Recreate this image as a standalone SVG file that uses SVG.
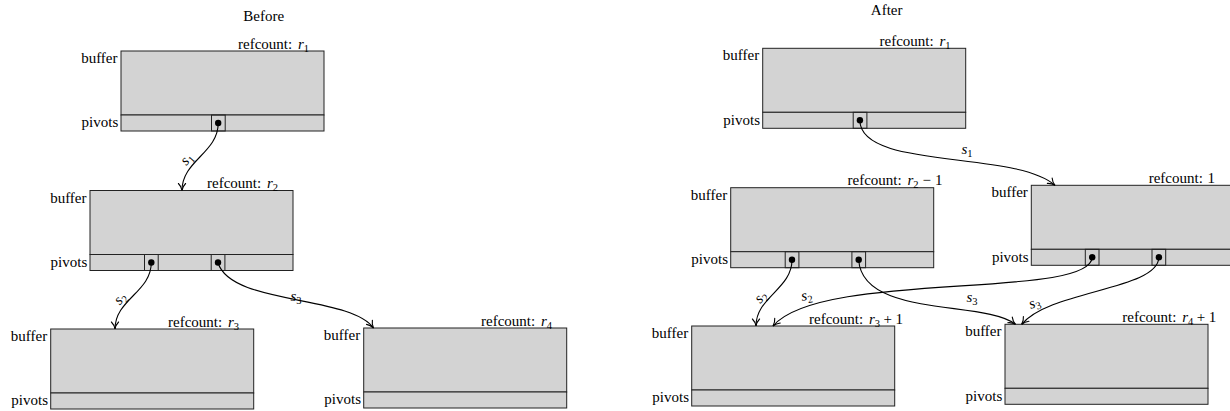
<svg xmlns="http://www.w3.org/2000/svg" width="1230" height="411" viewBox="0 0 1230 411">
<style>
  text { font-family: "Liberation Serif", "Times New Roman", serif; font-size: 15px; fill: #000; }
  .title { text-anchor: middle; }
  .lbl { text-anchor: end; }
  .i { font-style: italic; }
  .sub { font-size: 10.5px; font-style: normal; }
  .slab { text-anchor: middle; }
  .buf { fill: #d3d3d3; stroke: #222; stroke-width: 1; }
  .pv { fill: #d3d3d3; stroke: #222; stroke-width: 1; }
  .pbox { fill: none; stroke: #222; stroke-width: 1; }
  .dot { fill: #000; }
  .edge { fill: none; stroke: #000; stroke-width: 1.1; marker-end: url(#arr); }
</style>
<defs>
  <marker id="arr" markerUnits="userSpaceOnUse" markerWidth="12" markerHeight="12" viewBox="-9 -6 12 12" refX="0" refY="0" orient="auto">
    <path d="M-7,-3.6 C-5,-1.6 -1.6,-0.3 0,0 C-1.6,0.3 -5,1.6 -7,3.6" fill="none" stroke="#000" stroke-width="1.1" stroke-linecap="round"/>
  </marker>
</defs>

<text class="title" x="263.7" y="20.5">Before</text>
<text class="title" x="886.7" y="15">After</text>

<!-- Before nodes -->
<g id="b1">
  <rect class="buf" x="121" y="51" width="203" height="64"/>
  <rect class="pv" x="121" y="115" width="203" height="16"/>
  <rect class="pbox" x="211.5" y="115" width="13.7" height="16"/>
  <circle class="dot" cx="218.2" cy="123" r="3.2"/>
  <text class="lbl" x="117.5" y="63">buffer</text>
  <text class="lbl" x="118.3" y="127.3">pivots</text>
  <text x="238" y="48.5">refcount: <tspan class="i" dx="2">r</tspan><tspan class="sub" dy="3">1</tspan></text>
</g>
<g id="b2">
  <rect class="buf" x="90" y="190.5" width="203" height="64"/>
  <rect class="pv" x="90" y="254.5" width="203" height="16"/>
  <rect class="pbox" x="144.5" y="254.5" width="13.7" height="16"/>
  <rect class="pbox" x="211.2" y="254.5" width="13.7" height="16"/>
  <circle class="dot" cx="151.3" cy="262.5" r="3.2"/>
  <circle class="dot" cx="218" cy="262.5" r="3.2"/>
  <text class="lbl" x="86.5" y="202.5">buffer</text>
  <text class="lbl" x="87.3" y="266.8">pivots</text>
  <text x="207" y="188">refcount: <tspan class="i" dx="2">r</tspan><tspan class="sub" dy="3">2</tspan></text>
</g>
<g id="b3">
  <rect class="buf" x="50.7" y="329" width="203" height="64"/>
  <rect class="pv" x="50.7" y="393" width="203" height="16"/>
  <text class="lbl" x="47.2" y="341">buffer</text>
  <text class="lbl" x="48" y="405.3">pivots</text>
  <text x="168" y="326.5">refcount: <tspan class="i" dx="2">r</tspan><tspan class="sub" dy="3">3</tspan></text>
</g>
<g id="b4">
  <rect class="buf" x="363.7" y="328" width="203" height="64"/>
  <rect class="pv" x="363.7" y="392" width="203" height="16"/>
  <text class="lbl" x="360.2" y="340">buffer</text>
  <text class="lbl" x="361" y="404.3">pivots</text>
  <text x="481" y="325.5">refcount: <tspan class="i" dx="2">r</tspan><tspan class="sub" dy="3">4</tspan></text>
</g>

<!-- After nodes -->
<g id="a1">
  <rect class="buf" x="762.7" y="48.3" width="203" height="64"/>
  <rect class="pv" x="762.7" y="112.3" width="203" height="16"/>
  <rect class="pbox" x="853.2" y="112.3" width="13.7" height="16"/>
  <circle class="dot" cx="859.9" cy="120.3" r="3.2"/>
  <text class="lbl" x="759.2" y="60.3">buffer</text>
  <text class="lbl" x="760" y="124.6">pivots</text>
  <text x="879.5" y="45.8">refcount: <tspan class="i" dx="2">r</tspan><tspan class="sub" dy="3">1</tspan></text>
</g>
<g id="a2">
  <rect class="buf" x="730.7" y="187.7" width="203" height="64"/>
  <rect class="pv" x="730.7" y="251.7" width="203" height="16"/>
  <rect class="pbox" x="785.2" y="251.7" width="13.7" height="16"/>
  <rect class="pbox" x="851.9" y="251.7" width="13.7" height="16"/>
  <circle class="dot" cx="792" cy="259.7" r="3.2"/>
  <circle class="dot" cx="858.7" cy="259.7" r="3.2"/>
  <text class="lbl" x="727.2" y="199.7">buffer</text>
  <text class="lbl" x="728" y="264">pivots</text>
  <text x="847.5" y="185.2">refcount: <tspan class="i" dx="2">r</tspan><tspan class="sub" dy="3">2</tspan><tspan dy="-3" dx="4">−</tspan><tspan dx="4">1</tspan></text>
</g>
<g id="a3">
  <rect class="buf" x="1031.3" y="185.3" width="203" height="64"/>
  <rect class="pv" x="1031.3" y="249.3" width="203" height="16"/>
  <rect class="pbox" x="1085.3" y="249.3" width="13.7" height="16"/>
  <rect class="pbox" x="1152" y="249.3" width="13.7" height="16"/>
  <circle class="dot" cx="1092.2" cy="257.3" r="3.2"/>
  <circle class="dot" cx="1158.9" cy="257.3" r="3.2"/>
  <text class="lbl" x="1027.8" y="197.3">buffer</text>
  <text class="lbl" x="1028.6" y="261.6">pivots</text>
  <text x="1148.7" y="182.8">refcount: <tspan dx="1">1</tspan></text>
</g>
<g id="a4">
  <rect class="buf" x="691.7" y="326" width="203" height="64"/>
  <rect class="pv" x="691.7" y="390" width="203" height="16"/>
  <text class="lbl" x="688.2" y="338">buffer</text>
  <text class="lbl" x="689" y="402.3">pivots</text>
  <text x="809" y="323.5">refcount: <tspan class="i" dx="2">r</tspan><tspan class="sub" dy="3">3</tspan><tspan dy="-3" dx="3.5">+</tspan><tspan dx="3.5">1</tspan></text>
</g>
<g id="a5">
  <rect class="buf" x="1005" y="324.3" width="203" height="64"/>
  <rect class="pv" x="1005" y="388.3" width="203" height="16"/>
  <text class="lbl" x="1001.5" y="336.3">buffer</text>
  <text class="lbl" x="1002.3" y="400.6">pivots</text>
  <text x="1122.3" y="321.8">refcount: <tspan class="i" dx="2">r</tspan><tspan class="sub" dy="3">4</tspan><tspan dy="-3" dx="3.5">+</tspan><tspan dx="3.5">1</tspan></text>
</g>

<!-- Connectors -->
<g id="connectors">
  <path class="edge" d="M218.2,123 C218.2,153 182,160.5 182,190.5"/>
  <path class="edge" d="M151.3,262.5 C151.3,292 115,299.5 115,329"/>
  <path class="edge" d="M218,262.5 C230,305 350,295 373.5,328"/>
  <path class="edge" d="M859.9,120.3 C859.9,170 1015,150 1055,185.3"/>
  <path class="edge" d="M792,259.7 C792,289 756,297 756,326"/>
  <path class="edge" d="M1092.2,257.3 C1090,300 820,270 773,326"/>
  <path class="edge" d="M858.7,259.7 C862,318 985,300 1015.5,324.3"/>
  <path class="edge" d="M1158.9,257.3 C1158,290 1050,290 1021.7,324.3"/>

  <text class="slab" transform="translate(190,162) rotate(-48)"><tspan class="i">s</tspan><tspan class="sub" dy="3">1</tspan></text>
  <text class="slab" transform="translate(123.5,301.5) rotate(-48)"><tspan class="i">s</tspan><tspan class="sub" dy="3">2</tspan></text>
  <text class="slab" transform="translate(296,301)"><tspan class="i">s</tspan><tspan class="sub" dy="3">3</tspan></text>
  <text class="slab" transform="translate(967,154)"><tspan class="i">s</tspan><tspan class="sub" dy="3">1</tspan></text>
  <text class="slab" transform="translate(764,300) rotate(-48)"><tspan class="i">s</tspan><tspan class="sub" dy="3">2</tspan></text>
  <text class="slab" transform="translate(807.5,300) rotate(-10)"><tspan class="i">s</tspan><tspan class="sub" dy="3">2</tspan></text>
  <text class="slab" transform="translate(972,302)"><tspan class="i">s</tspan><tspan class="sub" dy="3">3</tspan></text>
  <text class="slab" transform="translate(1036,307) rotate(-20)"><tspan class="i">s</tspan><tspan class="sub" dy="3">3</tspan></text>
</g>
</svg>
